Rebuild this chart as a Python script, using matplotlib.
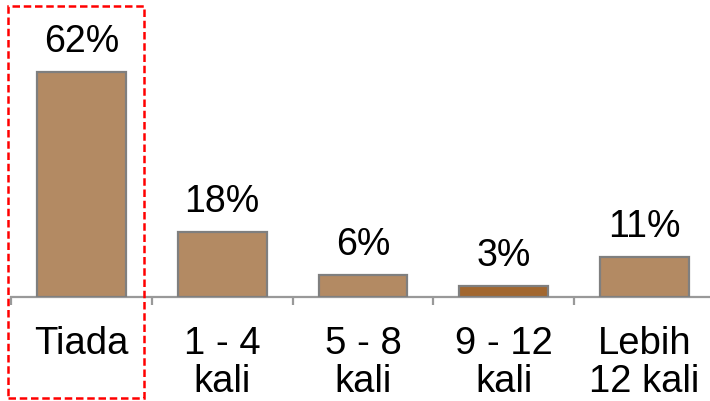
import matplotlib
matplotlib.use("Agg")
import matplotlib.pyplot as plt
import numpy as np
from matplotlib.patches import Rectangle

plt.rcParams['font.family'] = ['Liberation Sans', 'DejaVu Sans']

# data
categories = ['Tiada', '1 - 4\nkali', '5 - 8\nkali', '9 - 12\nkali', 'Lebih\n12 kali']
values = [62, 18, 6, 3, 11]
value_labels = ['62%', '18%', '6%', '3%', '11%']

bar_colors = ['#B38A63', '#B38A63', '#B38A63', '#A2672F', '#B38A63']
edge_color = '#7F7F7F'

fig = plt.figure(figsize=(7.10, 4.01), dpi=100)
ax = fig.add_axes([11 / 710, 104 / 401, 704 / 710, 297 / 401])

x = np.arange(len(categories))
ax.bar(x, values, width=0.63, color=bar_colors, edgecolor=edge_color, linewidth=1.6, zorder=3)

ax.set_xlim(-0.5, len(categories) - 0.5)
ax.set_ylim(0, 81.8)

for xi, v, lab in zip(x, values, value_labels):
    ax.annotate(lab, (xi, v), xytext=(0, 14.5), textcoords='offset points',
                ha='center', va='baseline', fontsize=27, color='black')

# axis styling
for side in ['top', 'right', 'left']:
    ax.spines[side].set_visible(False)
ax.spines['bottom'].set_color('#999999')
ax.spines['bottom'].set_linewidth(1.6)
ax.set_yticks([])

ax.set_xticks(x)
ax.set_xticklabels(categories, fontsize=27.5, linespacing=1.08)
ax.tick_params(axis='x', which='major', length=0, pad=21)
ax.set_xticks(np.arange(len(categories) + 1) - 0.5, minor=True)
ax.tick_params(axis='x', which='minor', length=6, width=1.6, color='#999999', direction='out')

# red dashed highlight box around first category
box = Rectangle((8 / 710, 3 / 401), 136 / 710, 392 / 401, transform=fig.transFigure,
                fill=False, edgecolor='#FF0000', linewidth=1.8, linestyle=(0, (3, 1.5)))
fig.patches.append(box)

fig.savefig('out.png', dpi=100)
